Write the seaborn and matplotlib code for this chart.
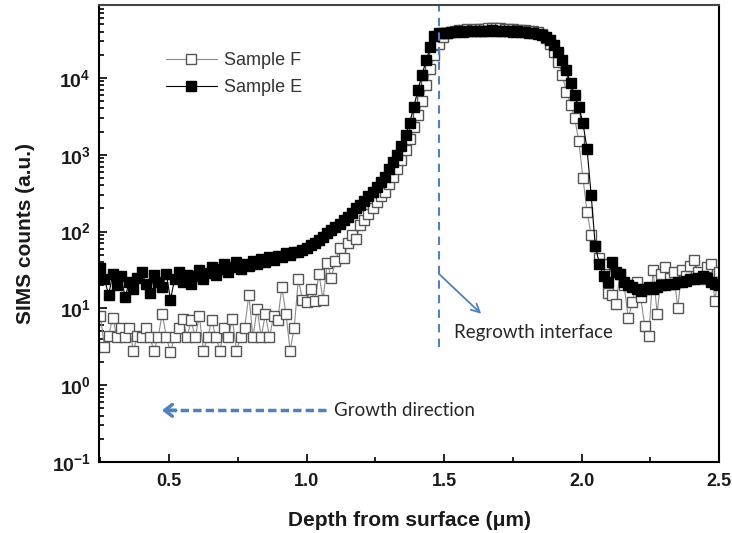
import numpy as np
import pandas as pd
import matplotlib
matplotlib.use("Agg")
import matplotlib.pyplot as plt
import seaborn as sns
from matplotlib.lines import Line2D
from matplotlib.ticker import LogLocator, MultipleLocator, FuncFormatter, NullFormatter

# ---------------- data ----------------
depth = [0.250, 0.265, 0.280, 0.295, 0.310, 0.325, 0.340, 0.355, 0.370, 0.385,
         0.400, 0.415, 0.430, 0.445, 0.460, 0.475, 0.490, 0.505, 0.520, 0.535,
         0.550, 0.565, 0.580, 0.595, 0.610, 0.625, 0.640, 0.655, 0.670, 0.685,
         0.700, 0.715, 0.730, 0.745, 0.760, 0.775, 0.790, 0.805, 0.820, 0.835,
         0.850, 0.865, 0.880, 0.895, 0.910, 0.925, 0.940, 0.955, 0.970, 0.985,
         1.000, 1.015, 1.030, 1.045, 1.060, 1.075, 1.090, 1.105, 1.120, 1.135,
         1.150, 1.165, 1.180, 1.195, 1.210, 1.225, 1.240, 1.255, 1.270, 1.285,
         1.300, 1.315, 1.330, 1.345, 1.360, 1.375, 1.390, 1.405, 1.420, 1.435,
         1.450, 1.465, 1.480, 1.495, 1.510, 1.525, 1.540, 1.555, 1.570, 1.585,
         1.600, 1.615, 1.630, 1.645, 1.660, 1.675, 1.690, 1.705, 1.720, 1.735,
         1.750, 1.765, 1.780, 1.795, 1.810, 1.825, 1.840, 1.855, 1.870, 1.885,
         1.900, 1.915, 1.930, 1.945, 1.960, 1.975, 1.990, 2.005, 2.020, 2.035,
         2.050, 2.065, 2.080, 2.095, 2.110, 2.125, 2.140, 2.155, 2.170, 2.185,
         2.200, 2.215, 2.230, 2.245, 2.260, 2.275, 2.290, 2.305, 2.320, 2.335,
         2.350, 2.365, 2.380, 2.395, 2.410, 2.425, 2.440, 2.455, 2.470, 2.485,
         2.500]

sample_f = [8.0, 3.1, 4.4, 7.6, 4.2, 5.6, 4.2, 5.6, 2.8, 4.4,
            4.2, 5.6, 4.2, 2.8, 4.2, 8.5, 4.2, 2.7, 4.2, 5.6,
            7.3, 4.2, 7.0, 4.2, 8.0, 2.8, 4.2, 7.0, 4.2, 2.8,
            5.6, 4.2, 7.3, 2.8, 4.2, 5.6, 15, 4.2, 9.9, 4.2,
            8.5, 4.2, 8.0, 7.0, 19, 8.5, 2.8, 5.6, 24, 13,
            12, 18, 12.6, 28, 13, 39, 25, 41, 61, 45,
            70, 90, 80, 120, 140, 170, 200, 240, 290, 330,
            420, 520, 650, 850, 1150, 1600, 2300, 3300, 5000, 8000,
            13000, 20000, 28000, 34000, 38000, 40000, 41000, 42000, 42500, 43000,
            42500, 43000, 43500, 44000, 44500, 45000, 44500, 45000, 44000, 43500,
            43000, 42500, 42000, 41500, 41000, 40500, 40000, 37000, 33000, 28000,
            22000, 16000, 11000, 6500, 4500, 3000, 1500, 500, 180, 90,
            65, 45, 38, 16, 15, 11.5, 28, 20, 7.4, 12,
            22, 14, 5.9, 4.4, 32, 8.5, 28, 35, 25, 30,
            10, 32, 26, 36, 42, 30, 24, 35, 38, 12.6,
            30]

sample_e = [34, 24, 15, 28, 20, 26, 14, 22, 18, 25,
            30, 21, 16, 27, 22, 19, 28, 13, 24, 30,
            22, 27, 21, 26, 32, 24, 29, 35, 27, 33,
            38, 30, 35, 40, 33, 38, 36, 41, 38, 44,
            40, 46, 43, 48, 46, 52, 50, 55, 54, 58,
            62, 66, 72, 78, 85, 95, 105, 115, 125, 140,
            155, 175, 200, 225, 250, 290, 330, 380, 440, 520,
            650, 800, 1000, 1300, 1800, 2600, 4200, 7000, 11000, 17000,
            25000, 35000, 38000, 39000, 39000, 39500, 40000, 40500, 40000, 40500,
            41000, 40500, 41000, 40500, 41000, 41500, 41000, 40500, 41000, 40500,
            40000, 40500, 40000, 39500, 39000, 38500, 37500, 36000, 34000, 31000,
            27000, 22000, 17000, 12500, 8500, 6000, 4200, 2600, 1200, 300,
            65, 38, 26, 22, 40, 30, 28, 22, 20, 19,
            18, 17, 18, 19, 18, 19, 20, 20, 21, 21,
            22, 22, 23, 24, 24, 25, 26, 25, 22, 21,
            20]

series_labels = ["Sample F", "Sample E"]

# annotation anchors (data coordinates)
interface_depth = 1.482
interface_arrow = ((1.482, 28), (1.635, 8.5))
interface_text = (1.536, 4.8)
growth_arrow_y = 0.47
growth_arrow_x = (1.069, 0.474)
growth_text = (1.099, 0.47)

# ---------------- style ----------------
sns.set_theme(style="ticks")
plt.rcParams["font.family"] = ["Liberation Sans", "DejaVu Sans"]
plt.rcParams["font.weight"] = "bold"
plt.rcParams["mathtext.fontset"] = "custom"
plt.rcParams["mathtext.rm"] = "Liberation Sans:bold"
plt.rcParams["mathtext.it"] = "Liberation Sans:bold"
plt.rcParams["mathtext.bf"] = "Liberation Sans:bold"

blue = "#4f81bd"
ms = 7.0

fig = plt.figure(figsize=(7.32, 5.33), dpi=100)
ax = fig.add_axes([99 / 732, 1 - 462 / 533, 620 / 732, 457 / 533])

df = pd.DataFrame({
    "depth": depth * 2,
    "counts": sample_f + sample_e,
    "sample": [series_labels[0]] * len(depth) + [series_labels[1]] * len(depth),
})

sns.lineplot(data=df[df["sample"] == "Sample F"], x="depth", y="counts", ax=ax,
             estimator=None, sort=False, color="#8c8c8c", lw=0.8,
             marker="s", markersize=ms, markerfacecolor="white",
             markeredgecolor="#555555", markeredgewidth=1.0, legend=False)
sns.lineplot(data=df[df["sample"] == "Sample E"], x="depth", y="counts", ax=ax,
             estimator=None, sort=False, color="black", lw=0.8,
             marker="s", markersize=ms, markerfacecolor="black",
             markeredgecolor="black", markeredgewidth=1.0, legend=False)

ax.set_yscale("log")
ax.set_xlim(0.245, 2.5)
ax.set_ylim(0.1, 8.9e4)

ax.xaxis.set_major_locator(MultipleLocator(0.5))
ax.xaxis.set_minor_locator(MultipleLocator(0.25))
ax.xaxis.set_major_formatter(FuncFormatter(lambda v, p: f"{v:.1f}"))
ax.yaxis.set_major_locator(LogLocator(base=10, numticks=20))
ax.yaxis.set_minor_locator(LogLocator(base=10, subs=np.arange(2, 10), numticks=20))
ax.yaxis.set_major_formatter(FuncFormatter(lambda v, p: r"$\mathrm{10^{%d}}$" % round(np.log10(v))))
ax.yaxis.set_minor_formatter(NullFormatter())

ax.tick_params(which="both", direction="in", top=False, right=False, color="black", width=1.2)
ax.tick_params(which="major", length=6)
ax.tick_params(which="minor", length=3.5)
ax.tick_params(axis="x", which="major", labelsize=13, pad=8, labelcolor="#1a1a1a")
ax.tick_params(axis="y", which="major", labelsize=14, pad=6, labelcolor="#1a1a1a")

for s in ax.spines.values():
    s.set_linewidth(1.5)
    s.set_color("black")
ax.spines["top"].set_color("#444444")

ax.set_xlabel("Depth from surface (\u03bcm)", fontsize=15, fontweight="bold", color="#1a1a1a")
ax.set_ylabel("SIMS counts (a.u.)", fontsize=15, fontweight="bold", color="#1a1a1a")
ax.xaxis.set_label_coords(0.5, -0.107)
ax.yaxis.set_label_coords(-0.103, 0.5)

handles = [
    Line2D([], [], color="#8c8c8c", lw=0.8, marker="s", ms=ms, mfc="white", mec="#555555", mew=1.0),
    Line2D([], [], color="black", lw=0.8, marker="s", ms=ms, mfc="black", mec="black", mew=1.0),
]
ax.legend(handles, series_labels, loc="upper left", bbox_to_anchor=(0.108, 0.897),
          frameon=False, prop={"size": 13, "weight": "normal"}, handlelength=2.8,
          handletextpad=0.4, labelspacing=0.55, borderaxespad=0, borderpad=0,
          labelcolor="#333333")

# annotations
ax.axvline(interface_depth, ymin=(462 - 347) / 457, ymax=1, color=blue, lw=1.5, ls=(0, (4, 3)))
ax.annotate("", xy=interface_arrow[1], xytext=interface_arrow[0],
            arrowprops=dict(arrowstyle="->,head_length=0.5,head_width=0.25", color=blue, lw=1.3,
                            shrinkA=0, shrinkB=0))
ax.text(interface_text[0], interface_text[1], "Regrowth interface", fontsize=13.5,
        family=["Lato", "DejaVu Sans"], fontweight="normal", va="center", ha="left", color="#262626")

ax.plot([growth_arrow_x[0], growth_arrow_x[1] + 0.03], [growth_arrow_y, growth_arrow_y],
        color=blue, lw=2.5, ls=(0, (2.4, 1.2)), solid_capstyle="butt")
ax.annotate("", xy=(growth_arrow_x[1], growth_arrow_y), xytext=(growth_arrow_x[1] + 0.05, growth_arrow_y),
            arrowprops=dict(arrowstyle="->,head_length=0.45,head_width=0.35", color=blue, lw=2.5,
                            shrinkA=0, shrinkB=0))
ax.text(growth_text[0], growth_text[1], "Growth direction", fontsize=13.5,
        family=["Lato", "DejaVu Sans"], fontweight="normal", va="center", ha="left", color="#262626")

fig.savefig("out.png", dpi=100)
